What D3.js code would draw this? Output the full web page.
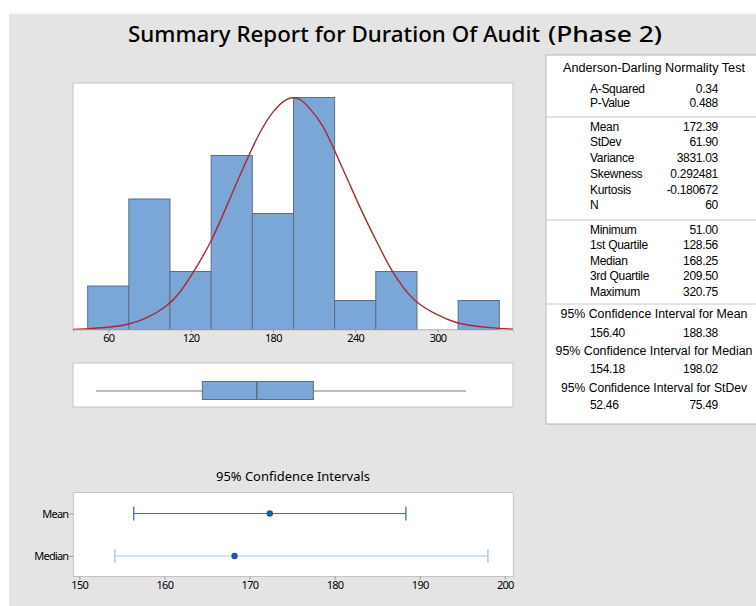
<!DOCTYPE html>
<html><head><meta charset="utf-8">
<script src="https://cdn.jsdelivr.net/npm/d3@7"></script>
<style>
html,body{margin:0;padding:0;background:#fff;}
svg{display:block;}
text{font-family:"Noto Sans","Open Sans",sans-serif;fill:#000;}
text.tbl{font-family:"Liberation Sans",Arial,sans-serif;}
</style></head>
<body>
<svg id="chart" width="756" height="606"></svg>
<script>
// ---------- data ----------
const titleMain = "Summary Report for Duration Of Audit";
const titleTail = "(Phase 2)";
const binEdges = [45, 75, 105, 135, 165, 195, 225, 255, 285, 315, 345];
const binCounts = [3, 9, 4, 12, 8, 16, 2, 4, 0, 2];
const histTicks = [60, 120, 180, 240, 300];
// fitted curve (value, count)
const curveX = [34.3, 56.4, 74.1, 88.0, 102.6, 112.3, 122.0, 134.9, 148.7, 162.0, 170.6, 180.3, 190.0, 195.0, 199.7, 207.0, 216.7, 224.7, 236.2, 245.9, 255.6, 265.3, 275.0, 284.8, 299.4, 313.9, 323.6, 338.2, 355.0];
const curveY = [0.0, 0.11, 0.30, 0.76, 1.56, 2.50, 3.95, 5.95, 9.06, 11.93, 13.66, 15.14, 15.95, 16.0, 15.95, 15.26, 14.11, 12.39, 9.97, 7.90, 6.07, 4.23, 2.85, 1.81, 1.01, 0.43, 0.28, 0.12, 0.02];
const boxNames = ["Minimum", "1st Quartile", "Median", "3rd Quartile", "Maximum"];
const boxValues = [51.00, 128.56, 168.25, 209.50, 320.75];
const adLabels = ["A-Squared", "P-Value"];
const adValues = ["0.34", "0.488"];
const momLabels = ["Mean", "StDev", "Variance", "Skewness", "Kurtosis", "N"];
const momValues = ["172.39", "61.90", "3831.03", "0.292481", "-0.180672", "60"];
const ciHeaders = ["95% Confidence Interval for Mean", "95% Confidence Interval for Median", "95% Confidence Interval for StDev"];
const ciTableLow = ["156.40", "154.18", "52.46"];
const ciTableHigh = ["188.38", "198.02", "75.49"];
const ciCategories = ["Mean", "Median"];
const ciLow = [156.40, 154.18];
const ciHigh = [188.38, 198.02];
const ciPoint = [172.39, 168.25];
const ciTicks = [150, 160, 170, 180, 190, 200];

// ---------- drawing ----------
const svg = d3.select("#chart");
const BAR = "#7ba6d8", BAR_STROKE = "#5d6e84", FRAME = "#c4c4c4";

svg.append("rect").attr("x", 9).attr("y", 15).attr("width", 747).attr("height", 591).attr("fill", "#e4e4e4");
svg.append("line").attr("x1", 9).attr("x2", 756).attr("y1", 14).attr("y2", 14).attr("stroke", "#eeeeee").attr("stroke-width", 2);

// title
svg.append("text").attr("x", 128).attr("y", 42).style("font-size", "22px").style("font-weight", 500)
  .attr("textLength", 412).attr("lengthAdjust", "spacingAndGlyphs").text(titleMain);
svg.append("text").attr("x", 548).attr("y", 42).style("font-size", "22px").style("font-weight", 500)
  .attr("textLength", 114).attr("lengthAdjust", "spacingAndGlyphs").text(titleTail);

// histogram
const hx = d3.scaleLinear().domain([34.3, 355]).range([73, 513]);
const hy = d3.scaleLinear().domain([0, 17]).range([329.5, 83]);
svg.append("rect").attr("x", 73).attr("y", 83).attr("width", 440).attr("height", 246.5)
  .attr("fill", "#fff").attr("stroke", FRAME).attr("stroke-width", 1);
const bins = binCounts.map((c, i) => ({x0: binEdges[i], x1: binEdges[i + 1], c}));
svg.append("g").selectAll("rect").data(bins.filter(b => b.c > 0)).join("rect")
  .attr("x", d => hx(d.x0)).attr("width", d => hx(d.x1) - hx(d.x0))
  .attr("y", d => hy(d.c)).attr("height", d => hy(0) - hy(d.c))
  .attr("fill", BAR).attr("stroke", BAR_STROKE).attr("stroke-width", 1);
const curve = curveX.map((x, i) => [x, curveY[i]]);
svg.append("path").datum(curve)
  .attr("d", d3.line().x(d => hx(d[0])).y(d => hy(d[1])).curve(d3.curveBasis))
  .attr("fill", "none").attr("stroke", "#a82a2e").attr("stroke-width", 1.4);
const hAxis = svg.append("g").attr("transform", "translate(0,329.5)")
  .call(d3.axisBottom(hx).tickValues(histTicks).tickSize(3).tickPadding(2).tickFormat(d3.format("d")));
hAxis.select(".domain").attr("stroke", FRAME);
hAxis.selectAll(".tick line").attr("stroke", "#999");
hAxis.selectAll("text").style("font-size", "11px").attr("fill", "#000").style("letter-spacing", "-0.7px");

// boxplot
svg.append("rect").attr("x", 73).attr("y", 363).attr("width", 440).attr("height", 44)
  .attr("fill", "#fff").attr("stroke", FRAME);
const by = 391;
svg.append("line").attr("x1", hx(boxValues[0])).attr("x2", hx(boxValues[4])).attr("y1", by).attr("y2", by)
  .attr("stroke", "#777").attr("stroke-width", 1);
svg.append("rect").attr("x", hx(boxValues[1])).attr("width", hx(boxValues[3]) - hx(boxValues[1]))
  .attr("y", 381.5).attr("height", 18).attr("fill", BAR).attr("stroke", BAR_STROKE).attr("stroke-width", 1);
svg.append("line").attr("x1", hx(boxValues[2])).attr("x2", hx(boxValues[2])).attr("y1", 381.5).attr("y2", 399.5)
  .attr("stroke", BAR_STROKE).attr("stroke-width", 1.5);

// CI plot
const cx = d3.scaleLinear().domain([149.3, 201]).range([73.3, 513.3]);
const cy = d3.scalePoint().domain(ciCategories).range([513.5, 556]);
svg.append("text").attr("x", 293).attr("y", 481).attr("text-anchor", "middle")
  .style("font-size", "12.5px").attr("textLength", 154).attr("lengthAdjust", "spacingAndGlyphs").text("95% Confidence Intervals");
svg.append("rect").attr("x", 73.3).attr("y", 492.5).attr("width", 440).attr("height", 84)
  .attr("fill", "#fff").attr("stroke", FRAME);
const cxAxis = svg.append("g").attr("transform", "translate(0,576.5)")
  .call(d3.axisBottom(cx).tickValues(ciTicks).tickSize(3).tickPadding(2).tickFormat(d3.format("d")));
cxAxis.select(".domain").remove();
cxAxis.selectAll(".tick line").attr("stroke", "#999");
cxAxis.selectAll("text").style("font-size", "11px").attr("fill", "#000").style("letter-spacing", "-0.7px");
const cyAxis = svg.append("g").attr("transform", "translate(73.3,0)")
  .call(d3.axisLeft(cy).tickSize(4).tickPadding(1));
cyAxis.select(".domain").remove();
cyAxis.selectAll(".tick line").attr("stroke", "#999");
cyAxis.selectAll("text").style("font-size", "11px").attr("fill", "#000").style("letter-spacing", "-0.8px");
const ciColors = ["#3a6fb0", "#a3c6ec"];
ciCategories.forEach((k, i) => {
  const y = cy(k);
  const g = svg.append("g");
  g.append("line").attr("x1", cx(ciLow[i])).attr("x2", cx(ciHigh[i])).attr("y1", y).attr("y2", y)
    .attr("stroke", ciColors[i]).attr("stroke-width", 1.2);
  [ciLow[i], ciHigh[i]].forEach(v => g.append("line").attr("x1", cx(v)).attr("x2", cx(v))
    .attr("y1", y - 7).attr("y2", y + 7).attr("stroke", ciColors[i]).attr("stroke-width", 1.3));
  g.append("circle").attr("cx", cx(ciPoint[i])).attr("cy", y).attr("r", 3.2).attr("fill", "#1d5aa8");
});

// stats table
const tx = 546;
svg.append("rect").attr("x", tx).attr("y", 55).attr("width", 220).attr("height", 369)
  .attr("fill", "#fff").attr("stroke", "#b4b4b4");
[117, 220, 304].forEach(y => svg.append("line").attr("x1", tx).attr("x2", 756).attr("y1", y).attr("y2", y)
  .attr("stroke", "#c8c8c8").attr("stroke-width", 1.2));
const fs = "12px", ls = "-0.3px";
function hdr(t, y, w) {
  svg.append("text").attr("class", "tbl").attr("x", 654).attr("y", y + 4).attr("text-anchor", "middle")
    .style("font-size", fs).attr("textLength", w).attr("lengthAdjust", "spacingAndGlyphs").text(t);
}
function txt(t, x, y, anchor) {
  svg.append("text").attr("class", "tbl").attr("x", x).attr("y", y + 4).attr("text-anchor", anchor)
    .style("font-size", fs).style("letter-spacing", ls).text(t);
}
hdr("Anderson-Darling Normality Test", 68, 182);
const adY = [89, 103];
adLabels.forEach((l, i) => { txt(l, 590, adY[i], "start"); txt(adValues[i], 718, adY[i], "end"); });
const momY = [127, 142, 158, 174, 190, 205];
momLabels.forEach((l, i) => { txt(l, 590, momY[i], "start"); txt(momValues[i], 718, momY[i], "end"); });
const qY = [230, 245, 261, 276, 292];
boxNames.forEach((l, i) => { txt(l, 590, qY[i], "start"); txt(boxValues[i].toFixed(2), 718, qY[i], "end"); });
const ciHY = [314, 351, 388], ciVY = [333, 369, 405], ciHW = [187, 197, 186];
ciHeaders.forEach((h, i) => {
  hdr(h, ciHY[i], ciHW[i]);
  txt(ciTableLow[i], 590, ciVY[i], "start");
  txt(ciTableHigh[i], 718, ciVY[i], "end");
});
</script>
</body></html>
